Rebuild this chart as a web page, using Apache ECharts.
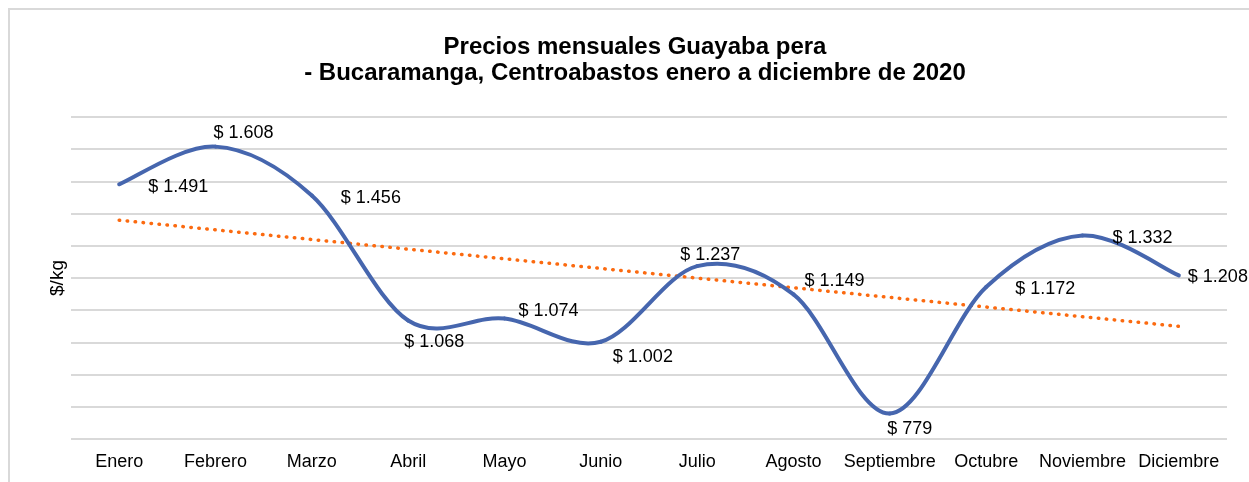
<!DOCTYPE html>
<html>
<head>
<meta charset="utf-8">
<script src="https://cdn.jsdelivr.net/npm/echarts@6/dist/echarts.min.js"></script>
<style>
  html, body { margin: 0; padding: 0; background: #fff; }
  #chart { width: 1249px; height: 482px; }
</style>
</head>
<body>
<div id="chart"></div>
<script>
var months = ['Enero', 'Febrero', 'Marzo', 'Abril', 'Mayo', 'Junio', 'Julio', 'Agosto', 'Septiembre', 'Octubre', 'Noviembre', 'Diciembre'];
var prices = [1491, 1608, 1456, 1068, 1074, 1002, 1237, 1149, 779, 1172, 1332, 1208];
var yMin = 700, yMax = 1700, yStep = 100;

// linear trend (least squares), like Excel's "Lineal" trendline
function trend(vals) {
    var n = vals.length, sx = 0, sy = 0, sxy = 0, sxx = 0;
    for (var i = 0; i < n; i++) {
        sx += i; sy += vals[i]; sxy += i * vals[i]; sxx += i * i;
    }
    var b = (n * sxy - sx * sy) / (n * sxx - sx * sx);
    var a = (sy - b * sx) / n;
    return vals.map(function (v, i) { return +(a + b * i).toFixed(2); });
}

function fmt(v) {
    return '$ ' + String(v).replace(/\B(?=(\d{3})+(?!\d))/g, '.');
}

// where each data label sits around its point
var labelStyle = [
    {position: 'right', distance: 28, offset: [0, 3]},
    {position: 'top', offset: [28, 1]},
    {position: 'right', distance: 28, offset: [0, 2]},
    {position: 'bottom', offset: [26, 7]},
    {position: 'right', distance: 13, offset: [0, -8]},
    {position: 'right', distance: 11, offset: [0, 15]},
    {position: 'top', offset: [13, 4]},
    {position: 'right', distance: 10, offset: [0, -13]},
    {position: 'bottom', offset: [20, 0]},
    {position: 'right', distance: 28, offset: [0, 2]},
    {position: 'right', distance: 29, offset: [0, 3]},
    {position: 'right', distance: 8, offset: [0, 2]}
];

var labelData = prices.map(function (v, i) {
    return {value: v, label: labelStyle[i]};
});
var curveData = prices.map(function (v, i) { return [i, v]; });

// Excel-style smoothed line: cubic bezier per segment, tangents from neighbours
function renderCurve(params, api) {
    var i = params.dataIndexInside;
    var n = params.dataInsideLength;
    if (i >= n - 1) return null;
    function pt(k) {
        k = Math.max(0, Math.min(n - 1, k));
        return api.coord([api.value(0, k), api.value(1, k)]);
    }
    var p0 = pt(i - 1), p1 = pt(i), p2 = pt(i + 1), p3 = pt(i + 2);
    var t = 1 / 6;
    return {
        type: 'bezierCurve',
        shape: {
            x1: p1[0], y1: p1[1],
            x2: p2[0], y2: p2[1],
            cpx1: p1[0] + (p2[0] - p0[0]) * t,
            cpy1: p1[1] + (p2[1] - p0[1]) * t,
            cpx2: p2[0] - (p3[0] - p1[0]) * t,
            cpy2: p2[1] - (p3[1] - p1[1]) * t
        },
        style: {stroke: '#4666ae', lineWidth: 4, fill: null, lineCap: 'round'}
    };
}

var myChart = echarts.init(document.getElementById('chart'));
myChart.setOption({
    animation: false,
    textStyle: {fontFamily: 'Liberation Sans, Arial, sans-serif'},
    title: {
        text: 'Precios mensuales Guayaba pera\n- Bucaramanga, Centroabastos enero a diciembre de 2020',
        left: 630,
        top: 29,
        textAlign: 'center',
        textStyle: {
            fontSize: 24,
            fontWeight: 'bold',
            color: '#000',
            lineHeight: 26,
            fontFamily: 'Liberation Sans, Arial, sans-serif'
        }
    },
    graphic: [{
        type: 'rect',
        shape: {x: 9, y: 9, width: 1400, height: 700},
        style: {fill: 'none', stroke: '#d9d9d9', lineWidth: 2},
        silent: true
    }],
    grid: {
        left: 71,
        right: 22,
        top: 117,
        bottom: 43
    },
    xAxis: {
        type: 'category',
        data: months,
        boundaryGap: true,
        axisLine: {show: false},
        axisTick: {show: false},
        axisLabel: {
            color: '#000',
            fontSize: 18,
            margin: 14,
            interval: 0
        }
    },
    yAxis: {
        type: 'value',
        min: yMin,
        max: yMax,
        interval: yStep,
        name: '$/kg',
        nameLocation: 'middle',
        nameRotate: 90,
        nameGap: 4,
        nameTextStyle: {color: '#000', fontSize: 19},
        axisLine: {show: false},
        axisTick: {show: false},
        axisLabel: {show: false},
        splitLine: {lineStyle: {color: '#d9d9d9', width: 2}}
    },
    series: [
        {
            name: 'Tendencia',
            type: 'line',
            data: trend(prices),
            symbol: 'none',
            lineStyle: {color: '#fb6a10', width: 3.5, type: [0.5, 7.5], cap: 'round'},
            z: 2
        },
        {
            name: 'Precio',
            type: 'custom',
            data: curveData,
            renderItem: renderCurve,
            z: 3
        },
        {
            name: 'Etiquetas',
            type: 'line',
            data: labelData,
            symbol: 'circle',
            symbolSize: 2,
            itemStyle: {color: 'rgba(0,0,0,0)'},
            lineStyle: {width: 0, opacity: 0},
            label: {
                show: true,
                color: '#000',
                fontSize: 18,
                formatter: function (p) { return fmt(p.value); }
            },
            z: 4
        }
    ]
});
</script>
</body>
</html>
